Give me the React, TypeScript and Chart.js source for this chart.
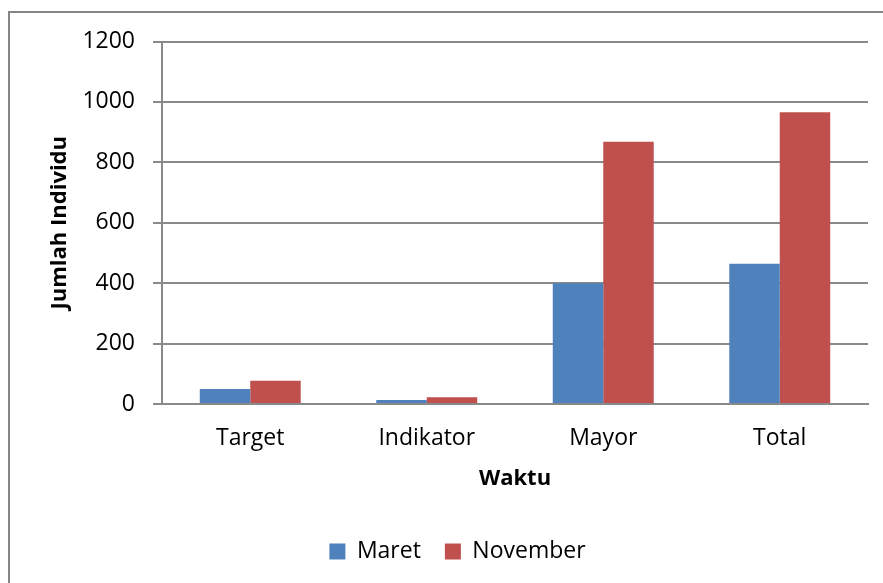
import React, { useEffect, useRef } from "react";
import { Chart, registerables } from "chart.js";

Chart.register(...registerables);

const categories = ["Target", "Indikator", "Mayor", "Total"];
const maret = [50, 13, 400, 464];
const november = [77, 22, 868, 966];
const seriesNames = ["Maret", "November"];
const yTitle = "Jumlah Individu";
const xTitle = "Waktu";

const FONT = "'Open Sans', 'DejaVu Sans', sans-serif";
const GRID = "#898989";

export default function App() {
  const ref = useRef<HTMLCanvasElement | null>(null);

  useEffect(() => {
    if (!ref.current) return;
    const chart = new Chart(ref.current, {
      type: "bar",
      data: {
        labels: categories,
        datasets: [
          { label: seriesNames[0], data: maret, backgroundColor: "#4F81BD", categoryPercentage: 0.572, barPercentage: 1 },
          { label: seriesNames[1], data: november, backgroundColor: "#C0504D", categoryPercentage: 0.572, barPercentage: 1 },
        ],
      },
      options: {
        animation: false,
        responsive: false,
        devicePixelRatio: 1,
        layout: { padding: { left: 0, right: 0, top: 28.5, bottom: 20 } },
        font: { family: FONT },
        plugins: {
          tooltip: { enabled: false },
          legend: {
            position: "bottom",
            align: "center",
            labels: {
              boxWidth: 16,
              boxHeight: 16,
              padding: 24,
              color: "#000",
              font: { family: FONT, size: 23 },
            },
          },
        },
        scales: {
          x: {
            grid: { display: false, drawTicks: false },
            border: { display: true, color: GRID, width: 2 },
            ticks: { color: "#000", padding: 21, font: { family: FONT, size: 23 } },
            title: {
              display: true,
              text: xTitle,
              color: "#000",
              font: { family: FONT, size: 22, weight: "bold" },
              padding: { top: 0, bottom: 24 },
            },
            afterFit: (s: any) => { s.height = 112; },
          },
          y: {
            min: 0,
            max: 1200,
            ticks: {
              stepSize: 200,
              color: "#000",
              padding: 18,
              font: { family: FONT, size: 23 },
              callback: (v: any) => String(v),
            },
            grid: { color: GRID, lineWidth: 2, tickLength: 9, drawTicks: true, tickColor: GRID },
            border: { display: true, color: GRID, width: 2 },
            title: {
              display: true,
              text: yTitle,
              color: "#000",
              font: { family: FONT, size: 22, weight: "bold" },
              padding: { top: 37, bottom: 0 },
            },
            afterFit: (s: any) => {
              s.width = 152;
              s.paddingTop = 0;
              s.paddingBottom = 0;
            },
          },
          yR: {
            position: "right",
            display: true,
            grid: { display: false, drawTicks: false },
            border: { display: false },
            ticks: { display: false },
            afterFit: (s: any) => {
              s.width = 37;
              s.paddingTop = 0;
              s.paddingBottom = 0;
            },
          },
        },
      },
    } as any);
    return () => chart.destroy();
  }, []);

  return (
    <div style={{ position: "fixed", left: 0, top: 0, width: 883, height: 583, overflow: "hidden", background: "#fff" }}>
      <div
        style={{
          position: "absolute",
          left: 8,
          top: 11,
          width: 920,
          height: 620,
          borderTop: "2px solid #868686",
          borderLeft: "2px solid #868686",
        }}
      />
      <canvas
        ref={ref}
        width={895}
        height={580}
        style={{ position: "absolute", left: 10, top: 13, width: 895, height: 580 }}
      />
    </div>
  );
}
